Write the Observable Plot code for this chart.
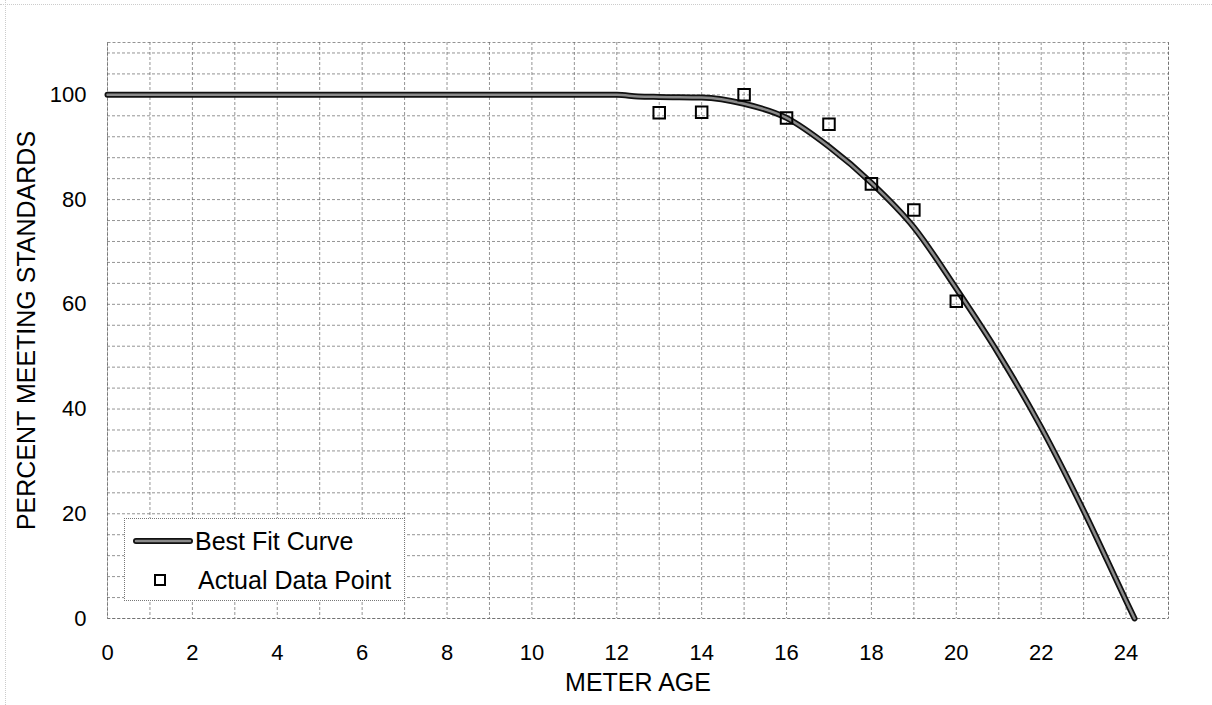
<!DOCTYPE html>
<html>
<head>
<meta charset="utf-8">
<script src="https://cdn.jsdelivr.net/npm/d3@7"></script>
<script src="https://cdn.jsdelivr.net/npm/@observablehq/plot@0.6"></script>
<style>
  body { margin: 0; background: #fff; font-family: "Liberation Sans", Arial, sans-serif; }
  #wrap { position: relative; width: 1212px; height: 705px; overflow: hidden; }
  #legend { position: absolute; left: 124px; top: 518px; width: 281px; height: 83px; background: #fff;
            border: 1px dotted #777; box-sizing: border-box; font-size: 25px; color: #000; }
  #legend .row { position: absolute; left: 0; height: 30px; display: flex; align-items: center; }
  #legend svg { display: block; }
  .scan { position: absolute; background: none; }
</style>
</head>
<body>
<div id="wrap">
  <div class="scan" style="left:5px;top:0;width:0;height:705px;border-left:1px dotted #ccc"></div>
  <div class="scan" style="left:0;top:4px;width:1212px;height:0;border-top:1px dotted #ccc"></div>
  <div id="chart"></div>
  <div id="legend">
    <div class="row" style="top:7px;left:8px">
      <svg width="60" height="12"><line x1="3" y1="6" x2="57" y2="6" stroke="#111" stroke-width="6" stroke-linecap="round"/><line x1="3" y1="6" x2="57" y2="6" stroke="#8a8a8a" stroke-width="2.5" stroke-linecap="round"/></svg>
      <span style="margin-left:2px">Best Fit Curve</span>
    </div>
    <div class="row" style="top:46px;left:28px">
      <svg width="14" height="14"><rect x="2" y="2" width="10" height="10" fill="none" stroke="#000" stroke-width="2"/></svg>
      <span style="margin-left:31px">Actual Data Point</span>
    </div>
  </div>
</div>
<script>
// Best fit curve (meter age, percent meeting standards)
const curveAge = [0, 2, 4, 6, 8, 10, 11, 12, 12.5, 13, 14, 15, 16, 17, 18, 19, 20, 21, 22, 23, 24, 24.2];
const curvePct = [100, 100, 100, 100, 100, 100, 100, 100, 99.7, 99.6, 99.5, 98.3, 95.6, 90.1, 83.2, 74.7, 63, 50.5, 36.5, 20.6, 3.4, 0];

// Actual data points
const pointAge = [13, 14, 15, 16, 17, 18, 19, 20];
const pointPct = [96.6, 96.7, 100, 95.6, 94.4, 83, 78, 60.6];

// Axis ticks and grid
const xTicks = [0, 2, 4, 6, 8, 10, 12, 14, 16, 18, 20, 22, 24];
const yTicks = [0, 20, 40, 60, 80, 100];
const xGrid = d3.range(0, 26, 1);
const yGrid = d3.range(0, 110, 4);

const curve = curveAge.map((a, i) => ({age: a, pct: curvePct[i]}));
const points = pointAge.map((a, i) => ({age: a, pct: pointPct[i]}));

const gridStyle = {stroke: "#666", strokeWidth: 1, strokeDasharray: "3,2", strokeOpacity: 0.7};

const chart = Plot.plot({
  width: 1212,
  height: 705,
  marginLeft: 107,
  marginRight: 44,
  marginTop: 42,
  marginBottom: 87,
  style: {fontFamily: "'Liberation Sans', Arial, sans-serif", fontSize: "22px", color: "#000", background: "transparent"},
  x: {domain: [0, 25], ticks: xTicks, tickSize: 0, tickPadding: 26, label: null},
  y: {domain: [0, 110], ticks: yTicks, tickSize: 0, tickPadding: 21, label: null},
  marks: [
    Plot.ruleX(xGrid, gridStyle),
    Plot.ruleY(yGrid, gridStyle),
    Plot.frame({stroke: "#666", strokeDasharray: "3,2", strokeOpacity: 0.7}),
    Plot.line(curve, {x: "age", y: "pct", stroke: "#111", strokeWidth: 6, curve: "monotone-x"}),
    Plot.line(curve, {x: "age", y: "pct", stroke: "#8a8a8a", strokeWidth: 2.5, curve: "monotone-x"}),
    Plot.dot(points, {x: "age", y: "pct", symbol: "square", r: 6.5, stroke: "#000", strokeWidth: 2, fill: "none"}),
    Plot.text(["METER AGE"], {text: d => d, frameAnchor: "bottom", dy: 64, fontSize: 25, lineAnchor: "middle", textAnchor: "middle"}),
    Plot.text(["PERCENT MEETING STANDARDS"], {text: d => d, frameAnchor: "left", dx: -81, rotate: -90, fontSize: 25, lineAnchor: "middle", textAnchor: "middle"})
  ]
});
document.getElementById("chart").appendChild(chart);
</script>
</body>
</html>
